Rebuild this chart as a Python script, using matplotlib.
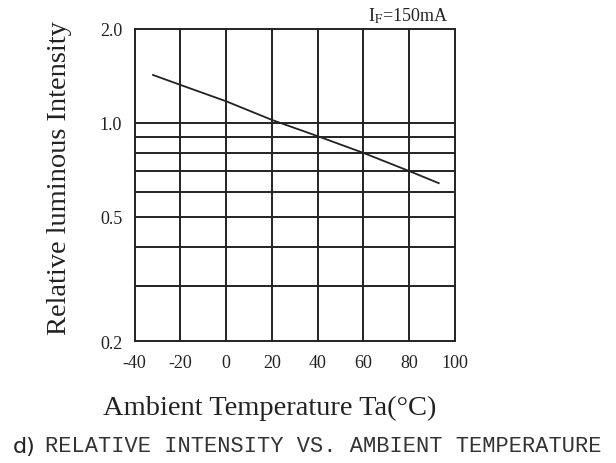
import matplotlib.pyplot as plt
from matplotlib.ticker import FixedLocator, NullLocator, FixedFormatter

# relative luminous intensity vs ambient temperature, IF = 150mA
temp = [-32, -20, 0, 20, 40, 60, 80, 93]
intensity = [1.42, 1.32, 1.17, 1.02, 0.905, 0.80, 0.70, 0.64]

x_ticks = [-40, -20, 0, 20, 40, 60, 80, 100]
y_labels = ['2.0', '1.0', '0.5', '0.2']
y_label_vals = [2.0, 1.0, 0.5, 0.2]
y_grid = [0.3, 0.4, 0.5, 0.6, 0.7, 0.8, 0.9, 1.0]

plt.rcParams['axes.unicode_minus'] = False
plt.rcParams['mathtext.fontset'] = 'stix'

fig = plt.figure(figsize=(6.16, 4.64), dpi=100)
ax = fig.add_axes([0.2187, 0.2629, 0.5195, 0.6735])

ax.plot(temp, intensity, color='#222222', lw=1.3)

ax.set_yscale('log')
ax.set_xlim(-40, 100)
ax.set_ylim(0.2, 2.0)

# grid lines
for x in x_ticks[1:-1]:
    ax.axvline(x, color='#222222', lw=1.4, zorder=0)
for y in y_grid:
    ax.axhline(y, color='#222222', lw=1.4, zorder=0)

ax.xaxis.set_major_locator(FixedLocator(x_ticks))
ax.yaxis.set_major_locator(FixedLocator(y_label_vals))
ax.yaxis.set_major_formatter(FixedFormatter(y_labels))
ax.yaxis.set_minor_locator(NullLocator())
ax.tick_params(length=0, labelsize=13, colors='#222222')
ax.tick_params(axis='y', pad=9)
ax.tick_params(axis='x', pad=9)
for lbl in ax.get_xticklabels() + ax.get_yticklabels():
    lbl.set_fontfamily('Liberation Serif')

for s in ax.spines.values():
    s.set_color('#222222')
    s.set_linewidth(1.4)

fig.text(60 / 616, 1 - 178 / 464, 'Relative luminous Intensity',
         fontfamily='Liberation Serif', fontsize=20.5, color='#222222',
         rotation=90, ha='center', va='center')

fig.text(270 / 616, 1 - 415 / 464, 'Ambient Temperature Ta(°C)',
         fontfamily='Liberation Serif', fontsize=20.5, color='#222222',
         ha='center', va='baseline')

ax.text(0.98, 1.012, r'I$_\mathrm{F}$=150mA', transform=ax.transAxes,
        fontfamily='Liberation Serif', fontsize=13, color='#222222',
        ha='right', va='bottom')

fig.text(13 / 616, 1 - 447 / 464, 'd)', fontfamily='DejaVu Sans',
         fontsize=16, color='#222222', ha='left', va='center')
fig.text(45 / 616, 1 - 447 / 464, 'RELATIVE INTENSITY VS. AMBIENT TEMPERATURE',
         fontfamily='Liberation Mono', fontsize=15.8, color='#333333',
         ha='left', va='center')

plt.savefig('out.png', dpi=100)
